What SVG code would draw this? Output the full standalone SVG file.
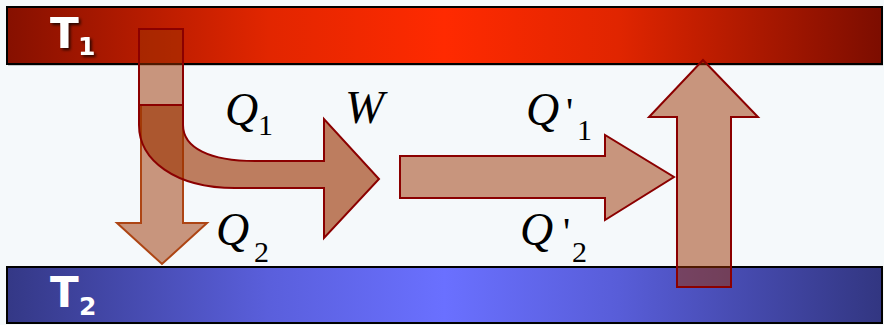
<svg xmlns="http://www.w3.org/2000/svg" width="884" height="325" viewBox="0 0 884 325">
<defs>
<linearGradient id="gRed" x1="0" y1="0" x2="1" y2="0">
<stop offset="0" stop-color="#861000"/>
<stop offset="0.3" stop-color="#e22600"/>
<stop offset="0.5" stop-color="#ff2a00"/>
<stop offset="0.7" stop-color="#e02500"/>
<stop offset="1" stop-color="#7c0d00"/>
</linearGradient>
<linearGradient id="gBlue" x1="0" y1="0" x2="1" y2="0">
<stop offset="0" stop-color="#343886"/>
<stop offset="0.3" stop-color="#5a5fdc"/>
<stop offset="0.5" stop-color="#6a70ff"/>
<stop offset="0.7" stop-color="#585dd8"/>
<stop offset="1" stop-color="#323681"/>
</linearGradient>
<filter id="sh" x="-20%" y="-20%" width="150%" height="150%">
<feGaussianBlur in="SourceAlpha" stdDeviation="1.5"/>
<feOffset dx="2" dy="2" result="b"/>
<feComponentTransfer><feFuncA type="linear" slope="0.75"/></feComponentTransfer>
<feMerge><feMergeNode/><feMergeNode in="SourceGraphic"/></feMerge>
</filter>
</defs>
<rect x="0" y="0" width="884" height="325" fill="#f5f9fb"/>
<g id="T1">
<rect x="8" y="9" width="875" height="57" fill="#000" opacity="0.2"/>
<rect x="7" y="7" width="875" height="57" fill="url(#gRed)" stroke="#000" stroke-width="2"/>
<g filter="url(#sh)" font-family="DejaVu Sans" font-weight="bold" fill="#fff">
<text x="50" y="48" font-size="42">T</text>
<text x="78" y="55" font-size="25">1</text>
</g>
</g>
<g id="T2">
<rect x="7" y="267" width="875" height="56" fill="url(#gBlue)" stroke="#000" stroke-width="2"/>
<g font-family="DejaVu Sans" font-weight="bold" fill="#fff">
<text x="50" y="307" font-size="42">T</text>
<text x="79" y="315" font-size="25">2</text>
</g>
</g>
<g id="connectors" fill="#9b3100" fill-opacity="0.5" stroke="#8b0000" stroke-width="2">
<rect id="source" x="139" y="29" width="44" height="76"/>
<path id="Q2arrow" stroke="#ad4514" d="M141,105 L183,105 L183,223 L207,223 L162,264 L117,223 L141,223 Z"/>
<path id="Q1arrow" fill-opacity="0.625" d="M139,105 L183,105 L183,125 C183,148 210,161 255,161 L324,161 L324,119 L379,179 L324,238 L324,188 L235,188 C175,188 139,160 139,125 Z"/>
<path id="Wpath" d="M400,156 L605,156 L605,135 L674,177 L605,220 L605,198 L400,198 Z"/>
<path id="Qp1arrow" d="M677,287 L677,117 L649,117 L703,60 L758,117 L731,117 L731,287 Z"/>
</g>
<g id="labels">
<text x="225" y="125" font-size="46" font-family="Times New Roman, serif" font-style="italic">Q</text>
<text x="258" y="135" font-size="30" font-family="Times New Roman, serif">1</text>
<text x="345" y="123" font-size="47" font-family="Times New Roman, serif" font-style="italic">W</text>
<text x="216" y="245" font-size="46" font-family="Times New Roman, serif" font-style="italic">Q</text>
<text x="254" y="262" font-size="30" font-family="Times New Roman, serif">2</text>
<text x="526" y="125" font-size="46" font-family="Times New Roman, serif" font-style="italic">Q</text>
<text x="566" y="125" font-size="40" font-family="Times New Roman, serif">'</text>
<text x="577" y="140" font-size="30" font-family="Times New Roman, serif">1</text>
<text x="520" y="245" font-size="46" font-family="Times New Roman, serif" font-style="italic">Q</text>
<text x="563" y="245" font-size="40" font-family="Times New Roman, serif">'</text>
<text x="572" y="262" font-size="30" font-family="Times New Roman, serif">2</text>
</g>
</svg>
